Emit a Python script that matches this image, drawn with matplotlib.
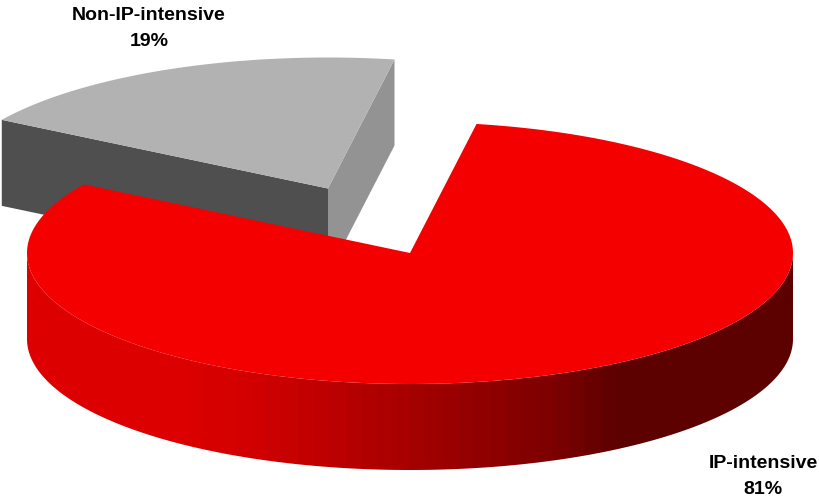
import numpy as np
import matplotlib
matplotlib.use("Agg")
import matplotlib.pyplot as plt
from matplotlib.colors import LinearSegmentedColormap
from matplotlib.patches import Polygon

labels = ["IP-intensive", "Non-IP-intensive"]
shares = [81, 19]

# pie geometry in pixels
RX, RY = 383, 131
DEPTH = 86
START = 10  # degrees clockwise from the top
RED_CENTER = (410, 253)
GREY_CENTER = (328, 188.5)

plt.rcParams["font.family"] = ["Liberation Sans", "DejaVu Sans"]


def rim(center, a0, a1, n=240):
    t = np.radians(np.linspace(a0, a1, n))
    return np.column_stack([center[0] + RX * np.sin(t), center[1] - RY * np.cos(t)])


def lowered(points):
    return points + np.array([0, DEPTH])


fig = plt.figure(figsize=(8.19, 4.99), dpi=100)
ax = fig.add_axes([0, 0, 1, 1])
ax.set_xlim(0, 819)
ax.set_ylim(499, 0)
ax.axis("off")

split = START + shares[0] * 3.6
end = START + 360

# grey slice, pulled away from the red one
grey_rim = rim(GREY_CENTER, split, end)
apex = np.array([GREY_CENTER])
right_cut = np.vstack([apex, grey_rim[-1:], lowered(grey_rim[-1:]), lowered(apex)])
left_cut = np.vstack([apex, grey_rim[:1], lowered(grey_rim[:1]), lowered(apex)])
ax.add_patch(Polygon(right_cut, fc="#939393", ec="none", zorder=1))
ax.add_patch(Polygon(left_cut, fc="#4f4f4f", ec="none", zorder=2))
ax.add_patch(Polygon(np.vstack([apex, grey_rim]), fc="#b2b2b2", ec="none", zorder=3))

# red side wall, shaded left to right
front = rim(RED_CENTER, 90, 270)
wall = Polygon(np.vstack([front, lowered(front)[::-1]]), fc="none", ec="none", transform=ax.transData)
ax.add_patch(wall)
shade = LinearSegmentedColormap.from_list(
    "wall",
    [(0.0, "#de0000"), (0.2, "#dc0000"), (0.3, "#d00000"), (0.5, "#a60000"),
     (0.7, "#7a0000"), (0.775, "#5e0000"), (1.0, "#5c0000")],
    N=48,
)
x0, x1 = RED_CENTER[0] - RX, RED_CENTER[0] + RX
gradient = ax.imshow(np.linspace(0, 1, 400).reshape(1, -1), cmap=shade, aspect="auto",
                     extent=(x0, x1, 499, 0), zorder=4, interpolation="bilinear")
gradient.set_clip_path(wall)
ax.set_xlim(0, 819)
ax.set_ylim(499, 0)

# red top
red_rim = rim(RED_CENTER, START, split, 600)
ax.add_patch(Polygon(np.vstack([[RED_CENTER], red_rim]), fc="#f50000", ec="none", zorder=5))

label_font = dict(fontsize=14, fontweight="bold", color="black", ha="center", va="center",
                  linespacing=1.75)
ax.text(149, 28.5, f"{labels[1]}\n{shares[1]}%", **label_font)
ax.text(763, 476.5, f"{labels[0]}\n{shares[0]}%", **label_font)

fig.savefig("out.png", dpi=100)
